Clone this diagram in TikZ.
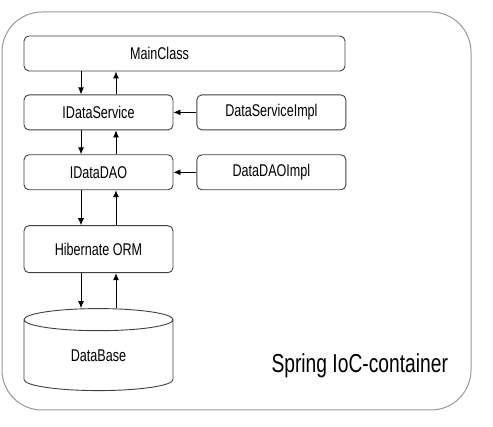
\documentclass[tikz,border=0pt]{standalone}
\usepackage{fontspec}
\setmainfont{Liberation Sans}[FakeStretch=0.74]
\usetikzlibrary{shapes.geometric, arrows.meta, positioning}

\begin{document}
\begin{tikzpicture}[
    x=1pt, y=1pt,
    box/.style={rectangle, draw=black!75, line width=0.9pt, rounded corners=5pt,
        minimum width=149pt, minimum height=35pt, inner sep=0pt,
        font=\fontsize{17}{20}\selectfont},
    dbase/.style={cylinder, shape border rotate=90, draw=black!75, line width=0.9pt,
        aspect=0.4, minimum width=149pt, minimum height=82pt, inner sep=0pt,
        font=\fontsize{17}{20}\selectfont},
    arrow/.style={-{Latex[length=7pt,width=6pt]}, line width=0.9pt}
]
    \useasboundingbox (0,0) rectangle (493,-427);
    % container
    \draw[black!40, line width=1pt, rounded corners=40pt] (2,-12) rectangle (471,-410);
    \node[anchor=base west, font=\fontsize{26}{30}\selectfont] (springioc) at (268,-373) {Spring IoC-container};

    \node[box, minimum width=321pt] (mainclass) at (184.5,-53.5) {\hspace*{-50pt}MainClass};
    \node[box, below right=23pt and 0pt of mainclass.south west] (dataservice) {IDataService};
    \node[box, right=23pt of dataservice] (dataserviceimpl) {DataServiceImpl};
    \node[box, below=24pt of dataservice] (datadao) {IDataDAO};
    \node[box, right=23pt of datadao] (datadaoimpl) {DataDAOImpl};
    \node[box, below=35pt of datadao, minimum height=47pt] (hibernate) {Hibernate ORM};
    \node[dbase, below=35pt of hibernate] (database) {\raisebox{-6pt}{DataBase}};

    \foreach \upper/\lower in {mainclass/dataservice, dataservice/datadao, datadao/hibernate, hibernate/database} {
        \draw[arrow] ([xshift=-17.5pt]\lower.north |- \upper.south) -- ([xshift=-17.5pt]\lower.north);
        \draw[arrow] ([xshift=17.5pt]\lower.north) -- ([xshift=17.5pt]\lower.north |- \upper.south);
    }
    \draw[arrow] (dataserviceimpl) -- (dataservice);
    \draw[arrow] (datadaoimpl) -- (datadao);
\end{tikzpicture}
\end{document}
